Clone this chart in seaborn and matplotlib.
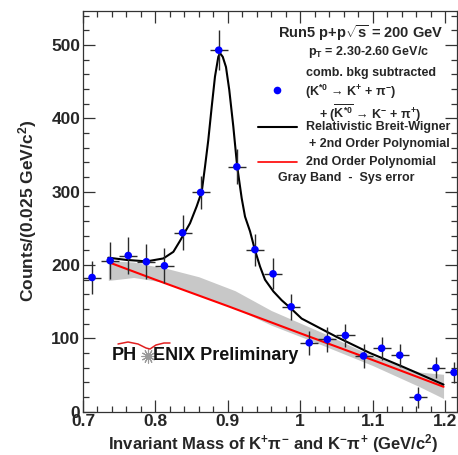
import matplotlib
matplotlib.use("Agg")
import matplotlib.pyplot as plt
import seaborn as sns
from matplotlib.ticker import MultipleLocator, FuncFormatter
from matplotlib.lines import Line2D

# --- data ---
mass = [0.7125, 0.7375, 0.7625, 0.7875, 0.8125, 0.8375, 0.8625, 0.8875, 0.9125,
        0.9375, 0.9625, 0.9875, 1.0125, 1.0375, 1.0625, 1.0875, 1.1125, 1.1375,
        1.1625, 1.1875, 1.2125]
counts = [183, 206, 213, 204.5, 199, 244, 299, 493, 334,
          221, 188, 143, 94, 98.5, 104, 76, 86.5, 77,
          19.5, 60, 53.5]
count_err = [23, 25, 25, 24, 24, 24, 23, 27, 24,
             22, 21, 18, 16, 17.5, 16, 17, 15.5, 16,
             14.5, 14.5, 14]
bin_half = 0.0125

# Breit-Wigner + pol2 fit curve
fit_x = [0.735, 0.76, 0.788, 0.811, 0.8248, 0.834, 0.8478, 0.857, 0.864, 0.8685,
         0.873, 0.8778, 0.8823, 0.8869, 0.8892, 0.893, 0.8975, 0.902, 0.9076, 0.913,
         0.9192, 0.9238, 0.9307, 0.9376, 0.9445, 0.9514, 0.963, 0.9744, 0.987, 1.002,
         1.0503, 1.0964, 1.1424, 1.198]
fit_y = [210, 207, 205, 209, 218, 233, 257, 280, 300, 334,
         370, 416, 457, 484, 489, 484, 470, 439, 389, 334,
         291, 266, 246, 220, 198, 180, 164, 152, 141, 127,
         102, 80, 61, 37]

# 2nd order polynomial background
bkg_x = [0.735, 0.80, 0.90, 1.00, 1.10, 1.198]
bkg_y = [204, 180, 144, 107, 70.5, 34]

# systematic band
band_x = [0.735, 0.77, 0.79, 0.815, 0.86, 0.91, 0.96, 1.03, 1.10, 1.165, 1.198]
band_hi = [206, 204, 200, 195.5, 184, 165, 138, 108, 76, 54, 51]
band_lo = [179, 183, 180, 176, 159, 141, 118, 91, 63, 34, 18]

sns.set_theme(style="ticks")
plt.rcParams['font.family'] = ['Liberation Sans', 'DejaVu Sans']
plt.rcParams['font.weight'] = 'bold'
plt.rcParams['mathtext.fontset'] = 'custom'
plt.rcParams['mathtext.rm'] = 'Liberation Sans:bold'
plt.rcParams['mathtext.it'] = 'Liberation Sans:bold'
plt.rcParams['mathtext.bf'] = 'Liberation Sans:bold'
plt.rcParams['mathtext.sf'] = 'Liberation Sans:bold'

W, H = 458, 455
fig = plt.figure(figsize=(W / 100, H / 100), dpi=100)
fig.patch.set_facecolor('white')
ax = fig.add_axes([83 / W, 43.3 / H, 374 / W, 401 / H])


def px(x, y):
    # figure pixel (from top-left) -> figure fraction
    return x / W, 1 - y / H


ax.fill_between(band_x, band_lo, band_hi, color='#c8c8c8', lw=0, zorder=1)
sns.lineplot(x=bkg_x, y=bkg_y, sort=False, estimator=None, color='#ff0000', lw=1.5, ax=ax, zorder=2)
sns.lineplot(x=fit_x, y=fit_y, sort=False, estimator=None, color='black', lw=1.5, ax=ax, zorder=3)
ax.errorbar(mass, counts, yerr=count_err, xerr=bin_half, fmt='none', ecolor='#2a2a2a',
            elinewidth=1, capsize=0, zorder=4)
sns.scatterplot(x=mass, y=counts, color='#0000ff', s=30, edgecolor='none', ax=ax, zorder=5)

ax.set_xlim(0.7, 0.7 + 374 / 724)
ax.set_ylim(0, 401 / 0.7333)
ax.xaxis.set_major_locator(MultipleLocator(0.1))
ax.xaxis.set_minor_locator(MultipleLocator(0.02))
ax.yaxis.set_major_locator(MultipleLocator(100))
ax.yaxis.set_minor_locator(MultipleLocator(20))
ax.xaxis.set_major_formatter(FuncFormatter(lambda v, p: f'{v:g}'))
ax.tick_params(which='both', direction='in', top=True, right=True, width=0.9, color='#333333')
ax.tick_params(which='major', length=8.5, labelsize=12.5, pad=2)
ax.tick_params(which='minor', length=4.5)
for lab in ax.get_xticklabels() + ax.get_yticklabels():
    lab.set_fontweight('bold')
for s in ax.spines.values():
    s.set_linewidth(0.9)
    s.set_color('#333333')

ax.set_xlabel(r'Invariant Mass of K$^{+}\pi^{-}$ and K$^{-}\pi^{+}$ (GeV/c$^{2}$)',
              fontsize=12, fontweight='bold')
ax.xaxis.set_label_coords(0.51, -0.052)
ax.set_ylabel(r'Counts/(0.025 GeV/c$^{2}$)', fontsize=12.5, fontweight='bold')
ax.yaxis.set_label_coords(-0.118, 0.5)

# --- legend block ---
fs = 9
fig.text(*px(278, 33), r'Run5 p+p$\sqrt{s}$ = 200 GeV', fontsize=10.5, fontweight='bold', va='center')
fig.text(*px(308, 52), r'p$_{T}$ = 2.30-2.60 GeV/c', fontsize=fs, fontweight='bold', va='center')
fig.text(*px(306, 73), 'comb. bkg subtracted', fontsize=fs, fontweight='bold', va='center')
fig.add_artist(Line2D([277 / W], [1 - 90 / H], marker='o', color='#0000ff', markersize=5.5,
                      markeredgewidth=0, transform=fig.transFigure))
fig.text(*px(305, 92), r'(K$^{*0}$ → K$^{+}$ + $\pi^{-}$)', fontsize=fs, fontweight='bold', va='center')
fig.text(*px(319, 113), r'+ ($\overline{\mathrm{K}^{*0}}$ → K$^{-}$ + $\pi^{+}$)', fontsize=fs,
         fontweight='bold', va='center')
fig.add_artist(Line2D([258 / W, 297 / W], [1 - 127 / H] * 2, color='black', lw=1.5,
                      transform=fig.transFigure))
fig.text(*px(306, 127), 'Relativistic Breit-Wigner', fontsize=fs, fontweight='bold', va='center')
fig.text(*px(309, 144), '+ 2nd Order Polynomial', fontsize=fs, fontweight='bold', va='center')
fig.add_artist(Line2D([258 / W, 297 / W], [1 - 162 / H] * 2, color='#ff0000', lw=1.2,
                      transform=fig.transFigure))
fig.text(*px(306, 162), '2nd Order Polynomial', fontsize=fs, fontweight='bold', va='center')
fig.text(*px(278, 178), 'Gray Band  -  Sys error', fontsize=fs, fontweight='bold', va='center')

# --- PHENIX Preliminary tag ---
fig.text(*px(112, 356), 'PH', fontsize=13, fontweight='bold', va='center', color='#111111')
fig.add_artist(Line2D([147.5 / W], [1 - 356 / H], marker=(12, 2, 0), color='#9a9a9a', markersize=10,
                      markeredgewidth=0.8, transform=fig.transFigure))
fig.text(*px(153, 356), 'ENIX Preliminary', fontsize=13, fontweight='bold', va='center', color='#111111')
wing_x = [118, 128, 138, 146, 150, 156, 164, 170]
wing_y = [344, 342, 344, 348, 349, 345, 343, 343]
fig.add_artist(Line2D([v / W for v in wing_x], [1 - v / H for v in wing_y], color='#e02020', lw=1.1,
                      transform=fig.transFigure))

fig.savefig('out.png', dpi=100)
